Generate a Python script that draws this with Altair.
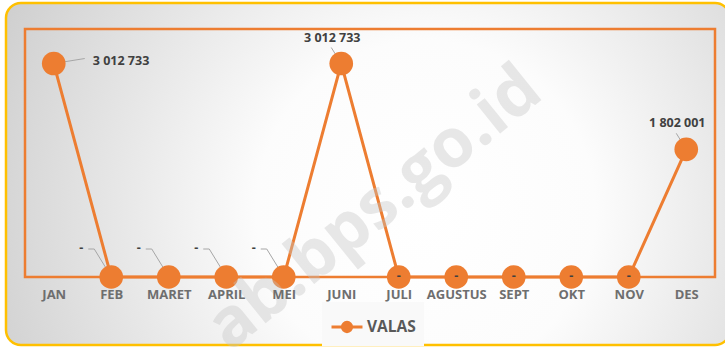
import altair as alt
import pandas as pd

# Monthly VALAS values
bulan = ["JAN", "FEB", "MARET", "APRIL", "MEI", "JUNI",
         "JULI", "AGUSTUS", "SEPT", "OKT", "NOV", "DES"]
nilai = [3012733, 0, 0, 0, 0, 3012733, 0, 0, 0, 0, 0, 1802001]
seri = "VALAS"

ORANGE = "#ED7D31"
LABEL_DARK = "#404040"
AXIS_GREY = "#6e6e6e"
LEADER = "#a6a6a6"
FONT = "Open Sans"

W, H = 690, 248


def fmt(v):
    return "-" if v == 0 else f"{v:,}".replace(",", " ")


df = pd.DataFrame({
    "bulan": bulan,
    "nilai": nilai,
    "seri": [seri] * len(bulan),
    "label": [fmt(v) for v in nilai],
})

x = alt.X("bulan:N", sort=bulan,
          scale=alt.Scale(type="point", padding=0.5),
          axis=alt.Axis(title=None, domain=False, ticks=False, grid=False,
                        labelAngle=0, labelPadding=11, labelFont=FONT,
                        labelFontSize=13, labelFontWeight="bold",
                        labelColor=AXIS_GREY, zindex=1))
y = alt.Y("nilai:Q", scale=alt.Scale(domain=[0, 3500000], nice=False),
          axis=None)

base = alt.Chart(df).encode(x=x, y=y)

one = pd.DataFrame({"k": [0]})

# Panel background with soft radial shading and rounded yellow frame
panel = alt.Chart(one).mark_rect(
    cornerRadius=15,
    stroke="#FFC000",
    strokeWidth=2.5,
    fill={
        "gradient": "radial",
        "x1": 0.58, "y1": 0.55, "r1": 0,
        "x2": 0.58, "y2": 0.55, "r2": 0.78,
        "stops": [
            {"offset": 0, "color": "#ffffff"},
            {"offset": 0.3, "color": "#fcfcfc"},
            {"offset": 1, "color": "#c0c0c0"},
        ],
    },
).encode(x=alt.value(-19), x2=alt.value(705),
         y=alt.value(-26), y2=alt.value(316))

# Orange frame of the plot area
frame = alt.Chart(one).mark_rect(
    fill=None, stroke=ORANGE, strokeWidth=2.5
).encode(x=alt.value(0), x2=alt.value(W), y=alt.value(0), y2=alt.value(H))

line = base.mark_line(strokeWidth=3, color=ORANGE).encode(
    color=alt.Color("seri:N",
                    scale=alt.Scale(domain=[seri], range=[ORANGE]),
                    legend=alt.Legend(
                        title=None, orient="none", legendX=297, legendY=273,
                        symbolType="M-1,0H1M-0.3,0A0.3,0.3 0 1,0 0.3,0A0.3,0.3 0 1,0 -0.3,0",
                        symbolSize=960, symbolStrokeWidth=3,
                        symbolFillColor=ORANGE, symbolStrokeColor=ORANGE,
                        labelFont=FONT, labelFontSize=15.5,
                        labelFontWeight="bold", labelColor="#595959",
                        labelOffset=3, padding=8, fillColor="#f9f9f9")))

points = base.mark_circle(size=560, opacity=1, color=ORANGE)

left_zero = ["FEB", "MARET", "APRIL", "MEI"]
right_zero = ["JULI", "AGUSTUS", "SEPT", "OKT", "NOV"]
above = ["JUNI", "DES"]

# Leader lines for the zero labels that sit up and to the left
lead_h = base.mark_rule(color=LEADER, strokeWidth=1,
                        xOffset=-23, x2Offset=-17, yOffset=-28, y2Offset=-28
                        ).encode(x2="bulan:N", y2="nilai:Q").transform_filter(
    alt.FieldOneOfPredicate(field="bulan", oneOf=left_zero))
lead_d = base.mark_rule(color=LEADER, strokeWidth=1,
                        xOffset=-17, x2Offset=-1, yOffset=-28, y2Offset=-2
                        ).encode(x2="bulan:N", y2="nilai:Q").transform_filter(
    alt.FieldOneOfPredicate(field="bulan", oneOf=left_zero))
lead_up = base.mark_rule(color=LEADER, strokeWidth=1,
                         xOffset=-10, x2Offset=0, yOffset=-16, y2Offset=0
                         ).encode(x2="bulan:N", y2="nilai:Q").transform_filter(
    alt.FieldOneOfPredicate(field="bulan", oneOf=above))
lead_r = base.mark_rule(color=LEADER, strokeWidth=1,
                        xOffset=0, x2Offset=31, yOffset=0, y2Offset=-5
                        ).encode(x2="bulan:N", y2="nilai:Q").transform_filter(
    alt.datum.bulan == "JAN")

txt = dict(font=FONT, fontSize=12.5, fontWeight="bold", color=LABEL_DARK,
           baseline="middle")

lab_left = base.mark_text(align="center", dx=-30, dy=-29, **txt).encode(
    text="label:N").transform_filter(
    alt.FieldOneOfPredicate(field="bulan", oneOf=left_zero))
lab_center = base.mark_text(align="center", dx=0, dy=-1, **txt).encode(
    text="label:N").transform_filter(
    alt.FieldOneOfPredicate(field="bulan", oneOf=right_zero))
lab_above = base.mark_text(align="center", dx=-9, dy=-26, **txt).encode(
    text="label:N").transform_filter(
    alt.FieldOneOfPredicate(field="bulan", oneOf=above))
lab_right = base.mark_text(align="left", dx=39, dy=-3, **txt).encode(
    text="label:N").transform_filter(alt.datum.bulan == "JAN")

# Diagonal site watermark
watermark = alt.Chart(one).mark_text(
    text="ab.bps.go.id", font=FONT, fontSize=68, fontWeight="bold",
    color="#c4c4c4", opacity=0.38, angle=321, align="center",
    baseline="middle"
).encode(x=alt.value(350), y=alt.value(180))

chart = alt.layer(
    panel, frame, lead_h, lead_d, lead_up, lead_r, line, points,
    lab_left, lab_center, lab_above, lab_right, watermark
).properties(
    width=W, height=H,
    autosize=alt.AutoSizeParams(type="none"),
    padding={"left": 25, "top": 29, "right": 10, "bottom": 70},
    background="white",
).configure_view(stroke=None)

chart.save("out.html", embed_options={"renderer": "svg", "actions": False})
